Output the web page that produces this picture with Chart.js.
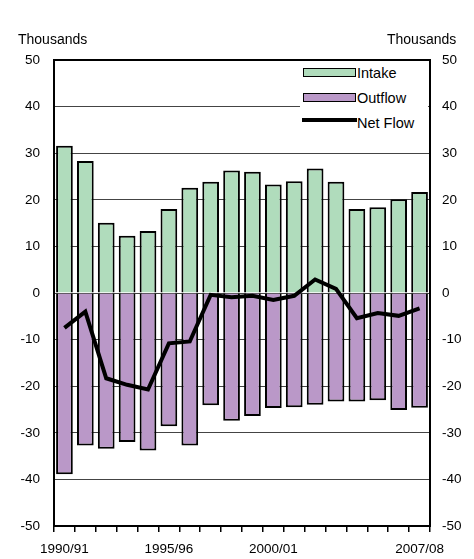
<!DOCTYPE html>
<html>
<head>
<meta charset="utf-8">
<script src="https://cdn.jsdelivr.net/npm/chart.js@4.4.1/dist/chart.umd.min.js"></script>
<style>
  html, body { margin: 0; padding: 0; background: #fff; }
  #wrap { position: relative; width: 474px; height: 559px; font-family: "Liberation Sans", Arial, sans-serif; }
  #flowChart { position: absolute; left: 0; top: 0; }
  .unit { position: absolute; top: 31px; font-size: 14px; color: #000; }
  #legendBox { position: absolute; left: 300px; top: 61px; width: 128px; height: 73px; background: #fff; }
  .sw { position: absolute; left: 3px; width: 51px; height: 7px; border: 1.5px solid #000; }
  .lbl { position: absolute; left: 57px; font-size: 14.5px; color: #000; line-height: 16px; }
</style>
</head>
<body>
<div id="wrap">
  <canvas id="flowChart" width="474" height="559"></canvas>
  <div class="unit" style="left:18px">Thousands</div>
  <div class="unit" style="left:387px">Thousands</div>
  <div id="legendBox">
    <div class="sw" style="top:7px;background:#b0dcbc"></div>
    <div class="lbl" style="top:4px">Intake</div>
    <div class="sw" style="top:32px;background:#ba98c8"></div>
    <div class="lbl" style="top:29px">Outflow</div>
    <div style="position:absolute;left:2px;top:57px;width:55px;height:4px;background:#000"></div>
    <div class="lbl" style="top:54px">Net Flow</div>
  </div>
</div>
<script>
const years = ["1990/91", "1991/92", "1992/93", "1993/94", "1994/95", "1995/96", "1996/97", "1997/98", "1998/99",
    "1999/00", "2000/01", "2001/02", "2002/03", "2003/04", "2004/05", "2005/06", "2006/07", "2007/08"];
const shownYears = [0, 5, 10, 17];
const intake = [31.6, 28.3, 15.1, 12.3, 13.3, 18.0, 22.6, 23.9, 26.3, 26.0, 23.3, 24.0, 26.7, 23.9, 18.0, 18.4, 20.1, 21.7];
const outflow = [-38.9, -32.7, -33.4, -32.0, -33.8, -28.6, -32.7, -24.1, -27.4, -26.4, -24.7, -24.5, -24.0, -23.3, -23.3, -23.0, -25.1, -24.6];
const netFlow = [-7.5, -4.0, -18.3, -19.7, -20.7, -10.8, -10.4, -0.4, -0.9, -0.6, -1.5, -0.6, 2.9, 0.9, -5.4, -4.3, -4.9, -3.3];

const tickFont = { family: "'Liberation Sans', Arial, sans-serif", size: 13.5 };

// black frame round the plot area
const frame = {
    id: 'frame',
    afterDraw(chart) {
        const a = chart.chartArea;
        const ctx = chart.ctx;
        ctx.save();
        ctx.strokeStyle = '#000';
        ctx.lineWidth = 2;
        ctx.strokeRect(a.left, a.top, a.right - a.left, a.bottom - a.top);
        ctx.restore();
    }
};

new Chart(document.getElementById("flowChart"), {
    type: "bar",
    data: {
        labels: years,
        datasets: [
            {
                type: "line",
                label: "Net Flow",
                data: netFlow,
                borderColor: "#000",
                borderWidth: 4,
                pointRadius: 0,
                tension: 0,
                order: 0
            },
            {
                label: "Intake",
                data: intake,
                backgroundColor: "#b0dcbc",
                borderColor: "#000",
                borderWidth: 2,
                order: 1
            },
            {
                label: "Outflow",
                data: outflow,
                backgroundColor: "#ba98c8",
                borderColor: "#000",
                borderWidth: 2,
                order: 1
            }
        ]
    },
    options: {
        responsive: false,
        animation: false,
        layout: { padding: { top: 60, left: 0, right: 0, bottom: 0 } },
        datasets: {
            bar: { categoryPercentage: 1, barPercentage: 0.8 }
        },
        scales: {
            x: {
                stacked: true,
                afterFit: function (scale) { scale.height = 33; },
                grid: { offset: true, drawOnChartArea: false, drawTicks: true, tickLength: 6, color: "#000", lineWidth: 1.5 },
                border: { display: false },
                ticks: {
                    autoSkip: false,
                    maxRotation: 0,
                    padding: 9,
                    color: "#000",
                    font: tickFont,
                    callback: function (value, index) {
                        return shownYears.includes(index) ? years[index] : '';
                    }
                }
            },
            y: {
                position: "left",
                min: -50,
                max: 50,
                afterFit: function (scale) { scale.width = 54; },
                grid: { color: "#444", lineWidth: 1, drawTicks: false },
                border: { display: false },
                ticks: { stepSize: 10, padding: 14, color: "#000", font: tickFont }
            },
            y2: {
                position: "right",
                min: -50,
                max: 50,
                afterFit: function (scale) { scale.width = 44; },
                grid: { drawOnChartArea: false, drawTicks: false },
                border: { display: false },
                ticks: { stepSize: 10, padding: 12, color: "#000", font: tickFont }
            }
        },
        plugins: {
            legend: { display: false },
            tooltip: { enabled: false }
        }
    },
    plugins: [frame]
});
</script>
</body>
</html>
